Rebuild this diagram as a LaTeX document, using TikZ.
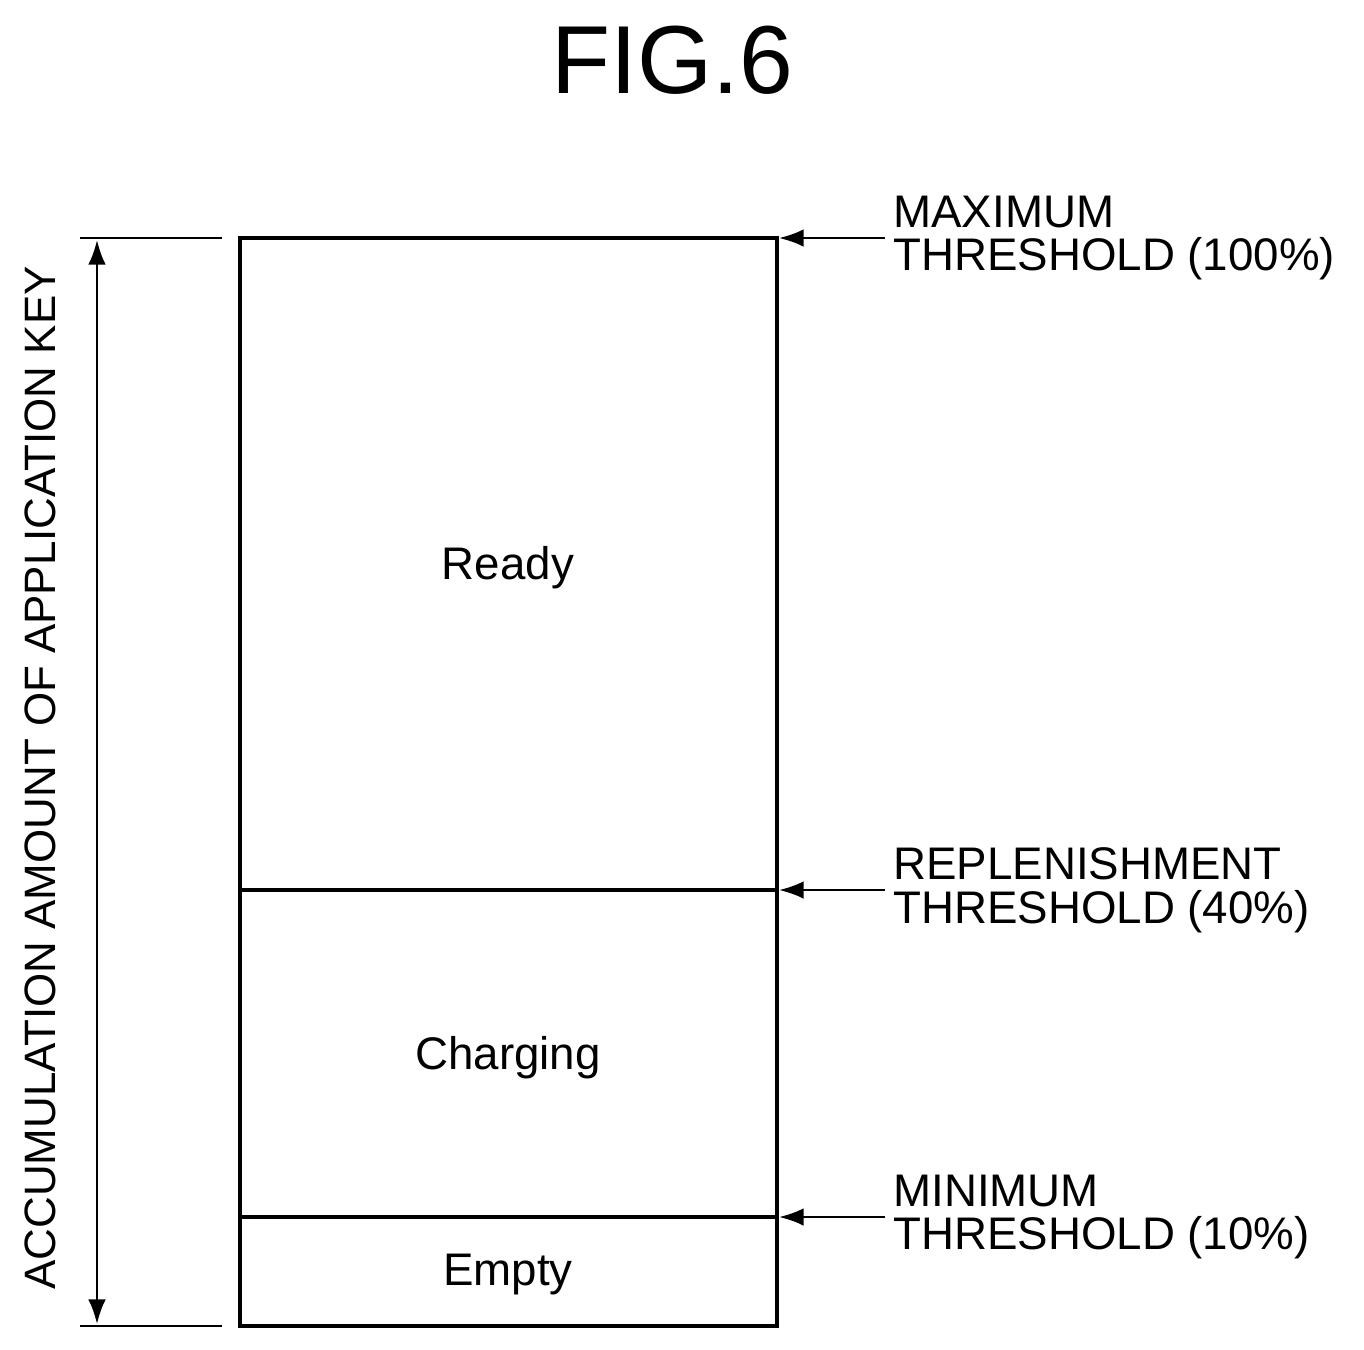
\documentclass[tikz,border=0pt]{standalone}
\usepackage{fontspec}
\setmainfont{Liberation Sans}
\usetikzlibrary{arrows.meta}
\begin{document}
\begin{tikzpicture}[x=0.02cm,y=-0.02cm,
  ln/.style={line width=2.2pt},
  arr/.style={line width=1.4pt,-{Latex[length=14pt,width=10pt]}},
  lab/.style={font=\fontsize{26}{25}\selectfont,align=left,anchor=west,inner sep=0pt}]
\useasboundingbox (0,0) rectangle (1364,1349);
\node (title) at (672,60) {\fontsize{55}{60}\selectfont FIG.6};
\draw[ln] (240,238) rectangle (777,1326);
\coordinate (L1) at (240,890); \coordinate (R1) at (777,890);
\coordinate (L2) at (240,1217); \coordinate (R2) at (777,1217);
\draw[ln] (L1) -- (R1); \draw[ln] (L2) -- (R2);
\node[font=\fontsize{26}{30}\selectfont] (ready) at (508,568) {Ready};
\node[font=\fontsize{26}{30}\selectfont] (chg) at (508,1058) {Charging};
\node[font=\fontsize{26}{30}\selectfont] (emp) at (508,1275) {Empty};
\draw[line width=1.4pt] (80,238) -- (222,238);
\draw[line width=1.4pt] (80,1326) -- (222,1326);
\coordinate (at) at (97,240); \coordinate (ab) at (97,1324);
\draw[line width=1.4pt,{Latex[length=14pt,width=10pt]}-{Latex[length=14pt,width=10pt]}] (at) -- (ab);
\node[rotate=90,font=\fontsize{25}{30}\selectfont] (vt) at (40,778) {ACCUMULATION AMOUNT OF APPLICATION KEY};
\foreach \y/\t in {238/{MAXIMUM\\THRESHOLD (100\%)},890/{REPLENISHMENT\\THRESHOLD (40\%)},1217/{MINIMUM\\THRESHOLD (10\%)}}{
  \coordinate (s) at (885,\y); \coordinate (e) at (779,\y);
  \draw[arr] (s) -- (e);
  \node[lab] at (893,\y) {\t};
}
\end{tikzpicture}
\end{document}
